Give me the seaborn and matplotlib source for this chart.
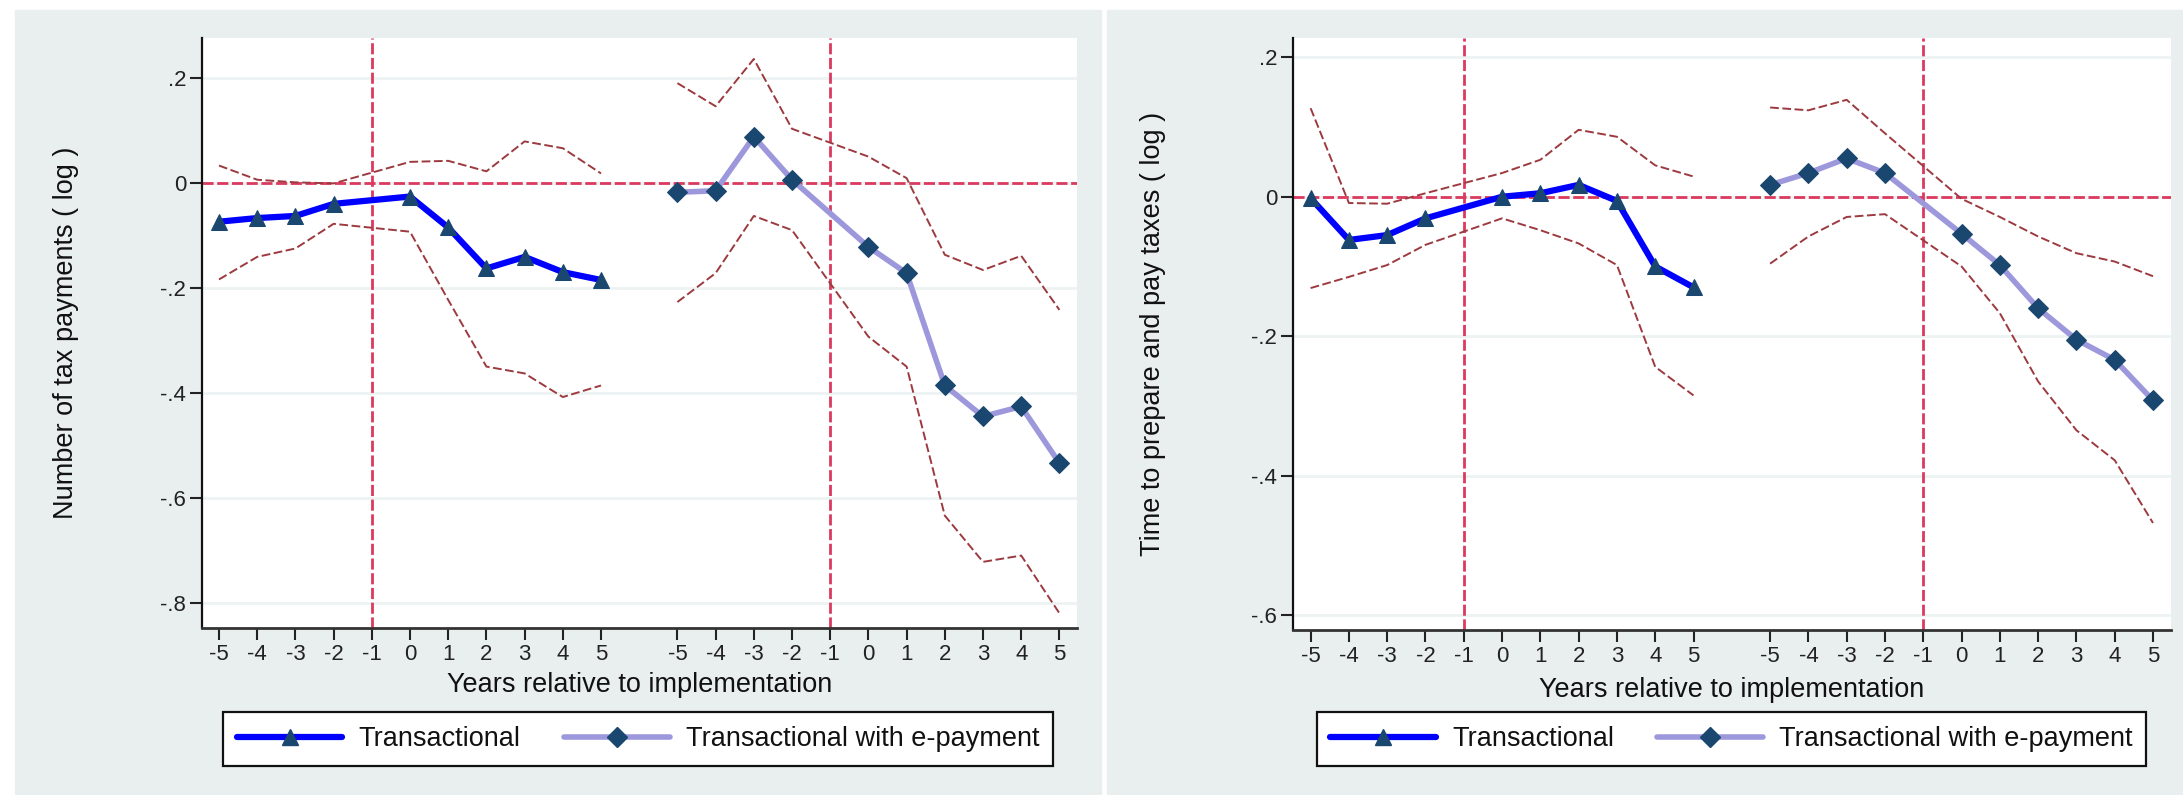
import pandas as pd
import matplotlib.pyplot as plt
import seaborn as sns
from matplotlib.lines import Line2D
from matplotlib.patches import Rectangle

# years relative to implementation (-1 is the omitted base year)
years = [-5, -4, -3, -2, 0, 1, 2, 3, 4, 5]
tick_years = [-5, -4, -3, -2, -1, 0, 1, 2, 3, 4, 5]

# panel 1: number of tax payments (log)
pay_trans = [-0.074, -0.067, -0.063, -0.040, -0.026, -0.085, -0.163, -0.141, -0.170, -0.185]
pay_trans_hi = [0.033, 0.006, 0.001, -0.001, 0.040, 0.042, 0.022, 0.079, 0.066, 0.018]
pay_trans_lo = [-0.184, -0.141, -0.125, -0.078, -0.093, -0.223, -0.350, -0.363, -0.408, -0.386]
pay_epay = [-0.018, -0.015, 0.088, 0.006, -0.122, -0.172, -0.386, -0.445, -0.426, -0.534]
pay_epay_hi = [0.190, 0.146, 0.236, 0.103, 0.050, 0.009, -0.137, -0.166, -0.139, -0.242]
pay_epay_lo = [-0.227, -0.172, -0.063, -0.090, -0.293, -0.350, -0.634, -0.722, -0.710, -0.820]

# panel 2: time to prepare and pay taxes (log)
time_trans = [-0.002, -0.062, -0.055, -0.031, 0.000, 0.005, 0.017, -0.006, -0.100, -0.130]
time_trans_hi = [0.127, -0.009, -0.010, 0.005, 0.034, 0.053, 0.096, 0.086, 0.045, 0.029]
time_trans_lo = [-0.131, -0.115, -0.098, -0.069, -0.031, -0.048, -0.067, -0.098, -0.244, -0.285]
time_epay = [0.017, 0.034, 0.055, 0.034, -0.053, -0.098, -0.160, -0.205, -0.234, -0.292]
time_epay_hi = [0.128, 0.124, 0.139, 0.091, -0.003, -0.029, -0.057, -0.081, -0.093, -0.114]
time_epay_lo = [-0.096, -0.057, -0.029, -0.025, -0.100, -0.167, -0.265, -0.335, -0.378, -0.468]

pay_yticks = [0.2, 0, -0.2, -0.4, -0.6, -0.8]
pay_yticklabels = ['.2', '0', '-.2', '-.4', '-.6', '-.8']
time_yticks = [0.2, 0, -0.2, -0.4, -0.6]
time_yticklabels = ['.2', '0', '-.2', '-.4', '-.6']

sns.set_style('white')
plt.rcParams['font.family'] = ['Liberation Sans', 'DejaVu Sans']

BG = '#e8efee'
BLUE = '#0000ff'
LAV = '#9d98dc'
NAVY = '#1a476f'
CI = '#9c3a3f'
REF = '#db3a5e'
LEFT_OFF = 5
RIGHT_OFF = 17


def make_frame(est, lo, hi, offset):
    return pd.DataFrame({'pos': [y + offset for y in years], 'est': est, 'lo': lo, 'hi': hi})


def draw_panel(ax, trans, epay, ylabel, yticks, yticklabels, ylim, xlim, ylab_x, xlab_y):
    ax.set_facecolor('white')
    ax.axhline(0, color=REF, lw=2, ls=(0, (4, 1.3)), zorder=1.5)
    ax.axvline(-1 + LEFT_OFF, color=REF, lw=2, ls=(0, (4, 1.3)), zorder=1.5)
    ax.axvline(-1 + RIGHT_OFF, color=REF, lw=2, ls=(0, (4, 1.3)), zorder=1.5)
    for df in (trans, epay):
        for col in ('lo', 'hi'):
            sns.lineplot(data=df, x='pos', y=col, ax=ax, color=CI, lw=1.4,
                         ls=(0, (4.5, 1.8)), estimator=None, sort=False, zorder=2)
    sns.lineplot(data=trans, x='pos', y='est', ax=ax, color=BLUE, lw=4.5,
                 marker='^', markersize=11, markerfacecolor=NAVY, markeredgecolor=NAVY,
                 estimator=None, sort=False, zorder=3)
    sns.lineplot(data=epay, x='pos', y='est', ax=ax, color=LAV, lw=4,
                 marker='D', markersize=10, markerfacecolor=NAVY, markeredgecolor=NAVY,
                 estimator=None, sort=False, zorder=3)
    pos = [y + LEFT_OFF for y in tick_years] + [y + RIGHT_OFF for y in tick_years]
    ax.set_xticks(pos)
    ax.set_xticklabels([str(y) for y in tick_years] * 2)
    ax.set_yticks(yticks)
    ax.set_yticklabels(yticklabels)
    ax.set_xlim(*xlim)
    ax.set_ylim(*ylim)
    ax.yaxis.grid(True, color='#edf3f2', lw=2)
    ax.set_axisbelow(True)
    for s in ('top', 'right'):
        ax.spines[s].set_visible(False)
    ax.spines['left'].set_linewidth(1.6)
    ax.spines['left'].set_color('#111111')
    ax.spines['bottom'].set_linewidth(2)
    ax.spines['bottom'].set_color('#333333')
    ax.tick_params(axis='both', direction='out', length=8.5, width=1.5, color='#222222',
                   labelsize=16, labelcolor='#222222', pad=3,
                   left=True, bottom=True)
    ax.set_xlabel('Years relative to implementation', fontsize=19.5, color='#111111')
    ax.set_ylabel(ylabel, fontsize=19.5, color='#111111')
    ax.xaxis.set_label_coords(0.5, xlab_y)
    ax.yaxis.set_label_coords(ylab_x, 0.5)


fig = plt.figure(figsize=(21.83, 7.95), dpi=100)
W, H = 2183.0, 795.0
fig.patches.append(Rectangle((15 / W, 0), (1101 - 15) / W, 1 - 10 / H,
                             transform=fig.transFigure, color=BG, zorder=-5))
fig.patches.append(Rectangle((1107 / W, 0), (W - 1107) / W, 1 - 10 / H,
                             transform=fig.transFigure, color=BG, zorder=-5))

ax1 = fig.add_axes([202 / W, 1 - 628 / H, (1077 - 202) / W, (628 - 38) / H])
ax2 = fig.add_axes([1293 / W, 1 - 630 / H, (2171 - 1293) / W, (630 - 38) / H])

draw_panel(ax1,
           make_frame(pay_trans, pay_trans_lo, pay_trans_hi, LEFT_OFF),
           make_frame(pay_epay, pay_epay_lo, pay_epay_hi, RIGHT_OFF),
           'Number of tax payments ( log )', pay_yticks, pay_yticklabels,
           (-0.848, 0.276), (-0.445, 22.46), -0.14, -0.075)
draw_panel(ax2,
           make_frame(time_trans, time_trans_lo, time_trans_hi, LEFT_OFF),
           make_frame(time_epay, time_epay_lo, time_epay_hi, RIGHT_OFF),
           'Time to prepare and pay taxes ( log )', time_yticks, time_yticklabels,
           (-0.6215, 0.2277), (-0.46, 22.47), -0.145, -0.079)

handles = [
    Line2D([], [], color=BLUE, lw=4.5, marker='^', markersize=11,
           markerfacecolor=NAVY, markeredgecolor=NAVY),
    Line2D([], [], color=LAV, lw=4, marker='D', markersize=10,
           markerfacecolor=NAVY, markeredgecolor=NAVY),
]
labels = ['Transactional', 'Transactional with e-payment']
for cx in (638, 1731.5):
    leg = fig.legend(handles, labels, loc='center', bbox_to_anchor=(cx / W, 1 - 739 / H),
                     ncol=2, fontsize=19.5, frameon=True, fancybox=False,
                     handlelength=3.9, handletextpad=0.6, columnspacing=1.6,
                     borderpad=0.5, edgecolor='#111111', facecolor='white', framealpha=1)
    leg.get_frame().set_linewidth(1.6)
    for t in leg.get_texts():
        t.set_color('#111111')

plt.savefig('out.png', dpi=100)
